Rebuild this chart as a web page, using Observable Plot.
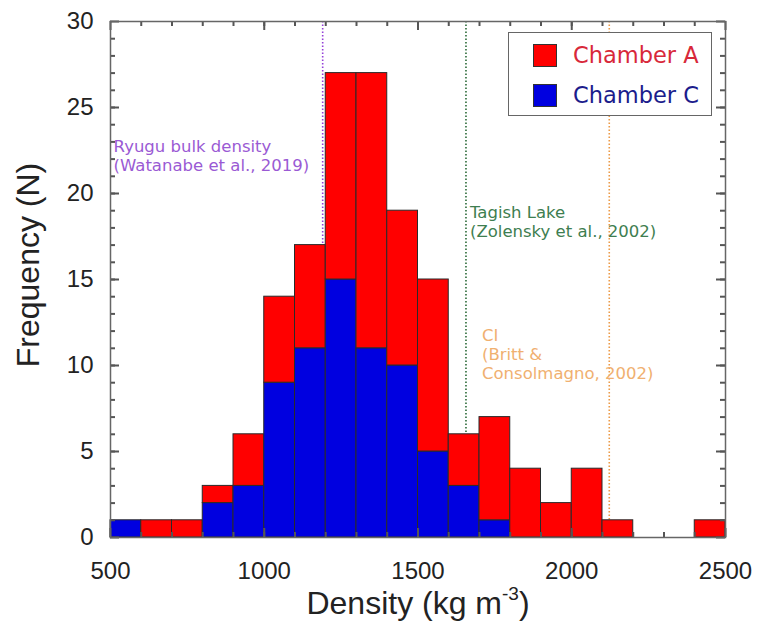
<!DOCTYPE html>
<html><head><meta charset="utf-8">
<script src="https://cdn.jsdelivr.net/npm/d3@7"></script>
<script src="https://cdn.jsdelivr.net/npm/@observablehq/plot@0.6"></script>
<style>
body{margin:0;background:#fff;font-family:"Liberation Sans",Arial,sans-serif;}
#wrap{position:relative;width:760px;height:631px;overflow:hidden;}
#legend{position:absolute;left:508px;top:32px;width:202px;height:82px;border:1.5px solid #666;background:#fff;box-sizing:content-box;}
.li{position:absolute;left:24px;height:24px;display:flex;align-items:center;font-family:"DejaVu Sans",sans-serif;font-size:22.5px;white-space:nowrap;}
.sw{width:24px;height:23px;border:1px solid #333;box-sizing:border-box;margin-right:16px;}
#xtitle{position:absolute;left:0;width:836px;top:585px;text-align:center;font-size:32px;color:#222;}
#xtitle sup{font-size:19px;vertical-align:14px;line-height:0;}
#ytitle{position:absolute;left:28px;top:265px;transform:translate(-50%,-50%) rotate(-90deg);font-size:32px;color:#222;white-space:nowrap;}
</style></head><body>
<div id="wrap"></div>
<script>
// Histogram bins (kg m^-3), width 100
const binStarts = [500,600,700,800,900,1000,1100,1200,1300,1400,1500,1600,1700,1800,1900,2000,2100,2200,2300,2400];
const binWidth = 100;
// Counts per bin
const chamberC = [1,0,0,2,3,9,11,15,11,10,5,3,1,0,0,0,0,0,0,0];
const chamberA = [0,1,1,1,3,5,6,12,16,9,10,3,6,4,2,4,1,0,0,1];
const seriesNames = ["Chamber A","Chamber C"];
const seriesColors = ["#ff0000","#0000e0"];
const legendTextColors = ["#d8283a","#1c1c8c"];
const xDomain = [500,2500];
const yDomain = [0,30];
const xTicks = [500,1000,1500,2000,2500];
const xMinorTicks = d3.range(600,2500,100);
const yTicks = [0,5,10,15,20,25,30];
const yMinorTicks = d3.range(1,30,1);
// Reference densities
const refNames = ["Ryugu","Tagish Lake","CI"];
const refValues = [1190,1656,2122];
const refColors = ["#9440d8","#2a6a38","#ec9a48"];
const refTextColors = ["#9a5ad4","#3e7e50","#f0b070"];
const labelTexts = ["Ryugu bulk density\n(Watanabe et al., 2019)","Tagish Lake\n(Zolensky et al., 2002)","CI\n(Britt &\nConsolmagno, 2002)"];
const labelX = [510,1669,1708];
const labelY = [22.2,18.4,10.7];

const W = 760, H = 631, mL = 110, mR = 35, mT = 21, mB = 94;

const rows = [];
binStarts.forEach((b,i)=>{
  if (chamberC[i]>0) rows.push({x1:b,x2:b+binWidth,series:"Chamber C",count:chamberC[i]});
  if (chamberA[i]>0) rows.push({x1:b,x2:b+binWidth,series:"Chamber A",count:chamberA[i]});
});
const refs = refNames.map((n,i)=>({name:n,x:refValues[i],color:refColors[i]}));
const labels = labelTexts.map((t,i)=>({text:t,x:labelX[i],y:labelY[i],color:refTextColors[i]}));

const tickStyle = {stroke:"#555",strokeWidth:2};
// inward tick marks drawn as short rules at the frame edges
const xTicksAt = (ticks, yEdge, len, top) => Plot.ruleX(ticks, {x:d=>d, y1:yEdge, y2:yEdge, insetBottom: top ? -len : len, ...tickStyle});
const yTicksAt = (ticks, xEdge, len, left) => Plot.ruleY(ticks, {y:d=>d, x1:xEdge, x2:xEdge, insetRight: left ? -len : len, ...tickStyle});

const chart = Plot.plot({
  width:W, height:H,
  marginLeft:mL, marginRight:mR, marginTop:mT, marginBottom:mB,
  style:{fontFamily:"Liberation Sans, Arial, sans-serif", background:"#fff"},
  x:{domain:xDomain},
  y:{domain:yDomain},
  color:{domain:seriesNames, range:seriesColors},
  marks:[
    Plot.ruleX(refs,{x:"x",stroke:"color",strokeWidth:1.6,strokeDasharray:"1.5,2"}),
    Plot.rectY(rows,{x1:"x1",x2:"x2",y:"count",fill:"series",order:["Chamber C","Chamber A"],stroke:"#2a2a2a",strokeWidth:1}),
    Plot.text(labels,{x:"x",y:"y",text:"text",fill:"color",textAnchor:"start",lineAnchor:"middle",fontSize:16.5,lineHeight:1.15,fontFamily:"DejaVu Sans, sans-serif"}),
    xTicksAt(xMinorTicks, yDomain[0], 5, false),
    xTicksAt(xMinorTicks, yDomain[1], 5, true),
    xTicksAt(xTicks, yDomain[0], 9, false),
    xTicksAt(xTicks, yDomain[1], 9, true),
    yTicksAt(yMinorTicks, xDomain[0], 5, true),
    yTicksAt(yMinorTicks, xDomain[1], 5, false),
    yTicksAt(yTicks, xDomain[0], 9, true),
    yTicksAt(yTicks, xDomain[1], 9, false),
    Plot.axisX(xTicks,{anchor:"bottom",tickSize:0,tickPadding:24,fontSize:24,label:null,fill:"#222",tickFormat:"d"}),
    Plot.axisY(yTicks,{anchor:"left",tickSize:0,tickPadding:17,fontSize:24,label:null,fill:"#222",tickFormat:"d"}),
    Plot.frame({stroke:"#666",strokeWidth:1.5})
  ]
});
const wrap = document.getElementById("wrap");
wrap.appendChild(chart);

const legend = document.createElement("div");
legend.id = "legend";
seriesNames.forEach((n,i)=>{
  const item = document.createElement("div");
  item.className = "li";
  item.style.top = (10 + i*40) + "px";
  const sw = document.createElement("div");
  sw.className = "sw";
  sw.style.background = seriesColors[i];
  const tx = document.createElement("span");
  tx.textContent = n;
  tx.style.color = legendTextColors[i];
  item.appendChild(sw); item.appendChild(tx);
  legend.appendChild(item);
});
wrap.appendChild(legend);

const xt = document.createElement("div");
xt.id = "xtitle";
xt.innerHTML = "Density (kg m<sup>-3</sup>)";
wrap.appendChild(xt);
const yt = document.createElement("div");
yt.id = "ytitle";
yt.textContent = "Frequency (N)";
wrap.appendChild(yt);
</script>
</body></html>
